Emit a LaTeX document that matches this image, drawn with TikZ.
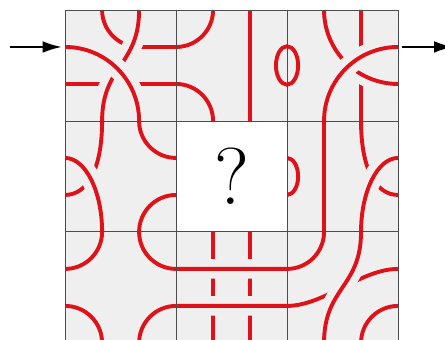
\documentclass[tikz,border=0pt]{standalone}
\usepackage{tikz}
\usepackage{xcolor}
\usetikzlibrary{arrows.meta}
\definecolor{strandred}{RGB}{222,18,24}
\definecolor{tilegray}{RGB}{239,239,239}

\begin{document}
\begin{tikzpicture}[
		x=1cm, y=-1cm,
		strand/.style={draw=strandred, line width=3pt},
		over/.style={strand, preaction={draw=tilegray, line width=15pt}},
		gridline/.style={draw=black!70, line width=0.7pt},
		arrow/.style={->,>={Latex[length=15pt,width=9pt]}, line width=1.8pt}
	]
		\useasboundingbox (-1.76,-0.27) rectangle (10.27,8.92);
		% 底色
		\fill[tilegray] (0,0) rectangle (9,9);
	
		% 最下层的线
		\draw[strand] (1,0) .. controls (1,0.552) and (1.448,1) .. (2,1) -- (3,1) .. controls (3.552,1) and (4,0.552) .. (4,0);
		\draw[strand] (0,2) -- (3,2) .. controls (3.552,2) and (4,2.448) .. (4,3);
		\draw[strand] (8,0) -- (8,3) .. controls (8,4.3) and (8.4,5) .. (9,5);
		\draw[strand] (4,6) -- (4,9);
		\draw[strand] (5,6) -- (5,9);
		\draw[strand] (5,0) -- (5,3);
		\draw[strand] (6,1.5) ellipse[x radius=0.3, y radius=0.52];
		\draw[strand] (6,4) .. controls (6.166,4) and (6.3,4.224) .. (6.3,4.5) .. controls (6.3,4.776) and (6.166,5) .. (6,5);
		\draw[strand] (9,8) .. controls (8.448,8) and (8,8.448) .. (8,9);
		\draw[strand] (0,8) .. controls (0.552,8) and (1,8.448) .. (1,9);
	
		% 第二层
		\draw[over] (2,0) .. controls (2,1.5) and (1,1.5) .. (1,3) .. controls (1,4.3) and (0.6,5) .. (0,5);
		\draw[over] (7,0) .. controls (7,1.105) and (7.895,2) .. (9,2);
	
		% 第三层
		\draw[over] (2,9) .. controls (2,8.448) and (2.448,8) .. (3,8) -- (6,8) .. controls (7,8) and (8,7) .. (9,7);
	
		% 最上层
		\draw[over] (0,1) .. controls (1.105,1) and (2,1.895) .. (2,3) .. controls (2,3.552) and (2.448,4) .. (3,4);
		\draw[over] (0,4) .. controls (0.55,4) and (1,4.9) .. (1,6) .. controls (1,6.552) and (0.552,7) .. (0,7);
		\draw[over] (3,5) .. controls (2.448,5) and (2,5.448) .. (2,6) .. controls (2,6.552) and (2.448,7) .. (3,7) -- (6,7) .. controls (6.552,7) and (7,6.552) .. (7,6) -- (7,3) .. controls (7,1.895) and (7.895,1) .. (9,1);
		\draw[over] (9,4) .. controls (8.45,4) and (8,4.9) .. (8,6) .. controls (8,7.5) and (7,7.5) .. (7,9);
	
		% 中间的空格
		\fill[white] (3,3) rectangle (6,6);
		\node[inner sep=0pt, font=\fontsize{62}{62}\selectfont] (quest) at (4.5,4.5) {?};
	
		% 网格
		\draw[gridline] (0,0) rectangle (9,9) (3,0) -- (3,9) (6,0) -- (6,9) (0,3) -- (9,3) (0,6) -- (9,6);
	
		% 入口和出口
		\coordinate (inL) at (-1.49,1);
		\coordinate (entry) at (-0.08,1);
		\coordinate (exit) at (9.1,1);
		\coordinate (outR) at (10.5,1);
		\draw[arrow] (inL) -- (entry);
		\draw[arrow] (exit) -- (outR);
	\end{tikzpicture}
\end{document}
